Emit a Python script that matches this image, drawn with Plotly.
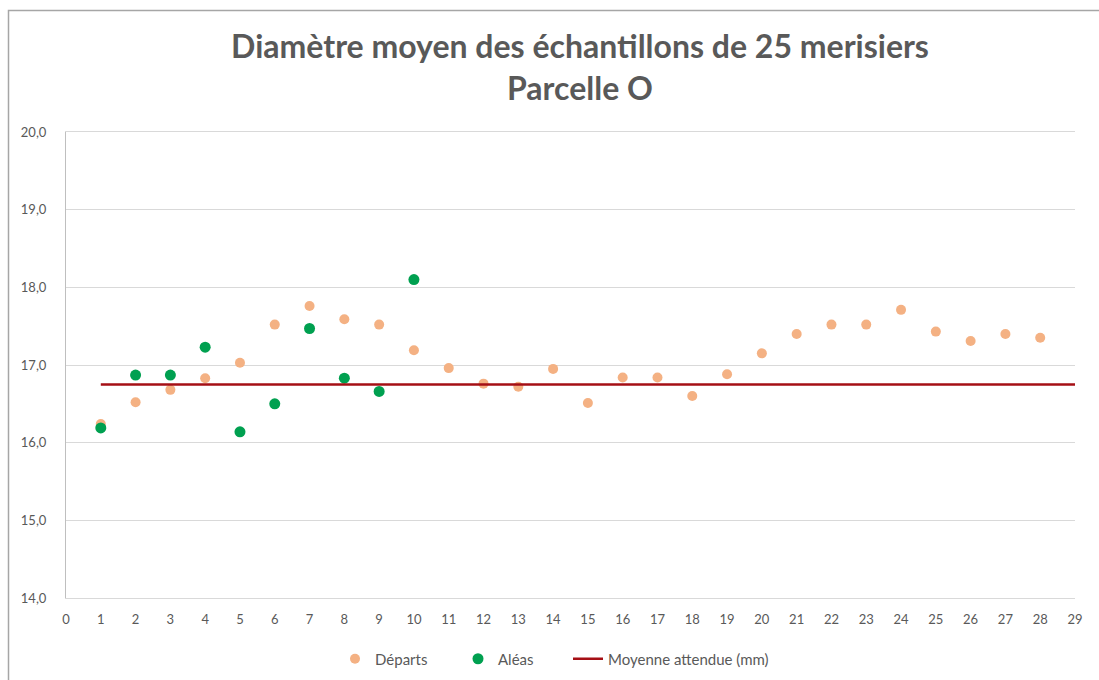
import plotly.graph_objects as go

x_departs = list(range(1, 29))
departs = [16.24, 16.52, 16.68, 16.83, 17.03, 17.52, 17.76, 17.59, 17.52, 17.19,
           16.96, 16.76, 16.72, 16.95, 16.51, 16.84, 16.84, 16.60, 16.88, 17.15,
           17.40, 17.52, 17.52, 17.71, 17.43, 17.31, 17.40, 17.35]
x_aleas = list(range(1, 11))
aleas = [16.19, 16.87, 16.87, 17.23, 16.14, 16.50, 17.47, 16.83, 16.66, 18.10]
x_moyenne = [1, 29]
moyenne = [16.75, 16.75]

FONT = "Lato, Carlito, Calibri, sans-serif"
GRAY = "#595959"

fig = go.Figure()
fig.add_trace(go.Scatter(x=x_departs, y=departs, mode="markers", name="Départs",
                         marker=dict(color="#F4B183", size=10), legend="legend"))
fig.add_trace(go.Scatter(x=x_aleas, y=aleas, mode="markers", name="Aléas",
                         marker=dict(color="#00A050", size=11), legend="legend2"))
fig.add_trace(go.Scatter(x=x_moyenne, y=moyenne, mode="lines", name="Moyenne attendue (mm)",
                         line=dict(color="#A50F15", width=2.5), legend="legend3"))


def leg(px):
    return dict(orientation="h", xref="container", yref="container",
                x=px / 1099, xanchor="left", y=1 - 659 / 680, yanchor="middle",
                font=dict(family=FONT, size=15, color=GRAY),
                bgcolor="rgba(0,0,0,0)")


fig.update_layout(
    width=1099, height=680,
    margin=dict(l=66, r=24, t=132, b=82, autoexpand=False),
    paper_bgcolor="white", plot_bgcolor="white",
    separators=", ",
    font=dict(family=FONT, size=13, color=GRAY),
    title=dict(text="<b>Diamètre moyen des échantillons de 25 merisiers<br>Parcelle O</b>",
               x=580 / 1099, xanchor="center", y=1 - 58 / 680, yanchor="middle",
               font=dict(family=FONT, size=32, color=GRAY)),
    showlegend=True,
    legend=leg(335),
    legend2=leg(458),
    legend3=leg(568),
    xaxis=dict(range=[0, 29], dtick=1, tick0=0, showgrid=False, zeroline=False,
               showline=True, mirror=True, linecolor="#D9D9D9", linewidth=1,
               ticks="", ticklabelstandoff=9, automargin=False,
               tickfont=dict(size=13, color=GRAY)),
    yaxis=dict(range=[14, 20], dtick=1, tick0=14, tickformat=".1f", showgrid=True,
               gridcolor="#D9D9D9", gridwidth=1, zeroline=False,
               showline=True, linecolor="#BFBFBF", linewidth=1, ticks="",
               ticklabelstandoff=16, automargin=False,
               tickfont=dict(size=13, color=GRAY)),
    shapes=[dict(type="rect", xref="paper", yref="paper",
                 x0=(8.5 - 66) / 1009, x1=1.2, y0=-0.3, y1=(598 - 10.5) / 466,
                 line=dict(color="#A6A6A6", width=1.5), fillcolor="rgba(0,0,0,0)",
                 layer="below")],
)

fig.write_html("out.html", config={"displayModeBar": False},
               post_script="document.body.style.margin='0';")
